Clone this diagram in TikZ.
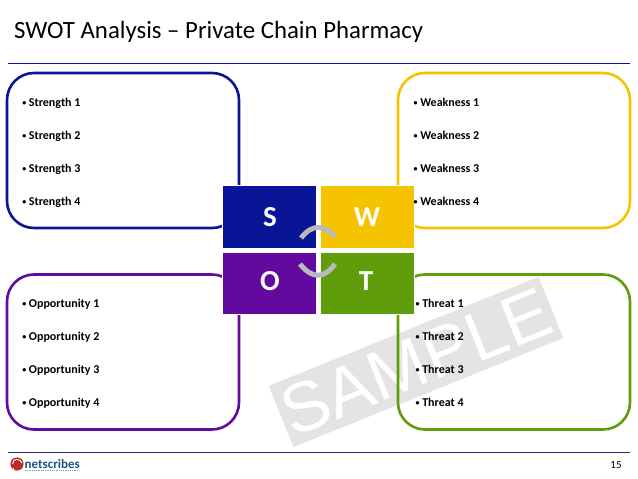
\documentclass[tikz,border=0pt]{standalone}
\usepackage{fontspec}
\setmainfont{Carlito}
\newfontfamily\markfont{Liberation Sans}
\usepackage{xcolor}
\definecolor{swotblue}{RGB}{10,20,150}
\definecolor{swotyellow}{RGB}{245,195,0}
\definecolor{swotpurple}{RGB}{98,10,160}
\definecolor{swotgreen}{RGB}{95,158,10}
\definecolor{ruleblue}{RGB}{30,40,120}
\definecolor{arcgray}{RGB}{185,185,190}
\definecolor{markgray}{RGB}{228,228,228}
\definecolor{logoblue}{RGB}{30,85,130}
\definecolor{logored}{RGB}{185,45,40}
\newcommand{\itemdot}{\raisebox{.9pt}{\fontsize{8}{8}\selectfont•}\hspace{2.6pt}}
\begin{document}
\begin{tikzpicture}[x=1pt,y=-1pt,
  listbox/.style={draw,line width=2.6pt,rounded corners=27pt,minimum width=232pt,minimum height=155pt,inner sep=0pt},
  letterbox/.style={draw=white,line width=1pt,minimum width=94pt,minimum height=62.5pt,inner sep=0pt},
  letter/.style={anchor=base,text=white,inner sep=0pt,font=\fontsize{29}{29}\selectfont\bfseries},
  item/.style={anchor=base west,inner sep=0pt,font=\fontsize{12}{14}\selectfont\bfseries},
  linkarc/.style={draw=arcgray,line width=5pt}]
\useasboundingbox (0,0) rectangle (638,479);
\node[rotate=22,fill=markgray,minimum width=291pt,minimum height=66pt,inner sep=0pt,text=white,font=\fontsize{70}{70}\selectfont\markfont] (mark) at (416,362) {SAMPLE};
\node[anchor=base west,inner sep=0pt,font=\fontsize{24.8}{28}\selectfont] (title) at (14,38.5) {SWOT Analysis – Private Chain Pharmacy};
\coordinate (ruleAl) at (8,63);
\coordinate (ruleAr) at (630,63);
\coordinate (ruleBl) at (8,452);
\coordinate (ruleBr) at (630,452);
\draw[swotblue,line width=1pt] (ruleAl)--(ruleAr);
\draw[ruleblue,line width=1pt] (ruleBl)--(ruleBr);
% four list boxes
\foreach \x/\y/\c/\n in {123/150.5/swotblue/bs,514/150.5/swotyellow/bw,123/352/swotpurple/bo,514/352/swotgreen/bt}{
  \node[listbox,draw=\c] (\n) at (\x,\y) {};}
% centre squares
\node[letterbox,fill=swotblue] (sqS) at (269.5,217) {};
\node[letterbox,fill=swotyellow] (sqW) at (367.5,217) {};
\node[letterbox,fill=swotpurple] (sqO) at (269.5,283.5) {};
\node[letterbox,fill=swotgreen] (sqT) at (367.5,283.5) {};
\node[letter] (lS) at (270,226) {S};
\node[letter] (lW) at (367,226) {W};
\node[letter] (lO) at (270,290) {O};
\node[letter] (lT) at (366,290) {T};
\draw[linkarc] (301,238) .. controls (312,224) and (324,224) .. (335,237);
\draw[linkarc] (300,264) .. controls (312,279) and (324,279) .. (335,264);
% list texts
\foreach \i/\y in {1/106,2/139,3/172,4/205}{
  \node[item] (s\i) at (22.2,\y) {\itemdot Strength \i};
  \node[item] (w\i) at (413.5,\y) {\itemdot Weakness \i};}
\foreach \i/\y in {1/307,2/340,3/373,4/406}{
  \node[item] (o\i) at (22.2,\y) {\itemdot Opportunity \i};
  \node[item] (t\i) at (415.5,\y) {\itemdot Threat \i};}
% footer
\fill[logored] (17,464) circle (6.6pt);
\draw[white,line width=.9pt] (13,468) arc (180:320:4pt);
\draw[white,line width=.9pt] (12.5,464) .. controls (13,458) and (20,458) .. (22,463);
\node[anchor=base west,inner sep=0pt,text=logoblue,font=\fontsize{13}{14}\selectfont\bfseries] (logo) at (24.5,468) {netscribes};
\coordinate (tagl) at (25,470.5);
\coordinate (tagr) at (79,470.5);
\draw[logoblue!60,line width=1pt,dash pattern=on 1pt off .8pt] (tagl)--(tagr);
\node[inner sep=0pt,font=\fontsize{11}{13}\selectfont] (page) at (616,465) {15};
\end{tikzpicture}
\end{document}
